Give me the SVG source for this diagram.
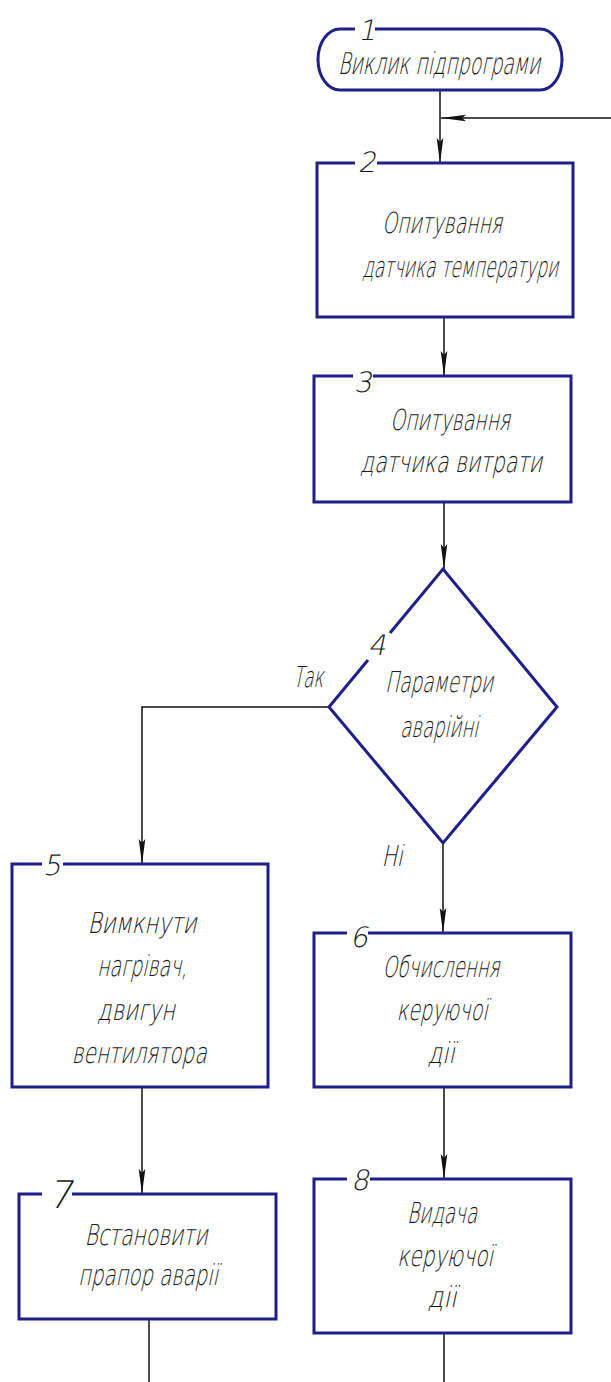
<svg xmlns="http://www.w3.org/2000/svg" width="611" height="1382" viewBox="0 0 611 1382">
  <style>
    .shape { fill: none; stroke: #1f1f8a; stroke-width: 3; stroke-linejoin: miter; }
    .wire { fill: none; stroke: #111; stroke-width: 1.5; }
    .txt { font-family: "DejaVu Sans", "Liberation Sans", sans-serif; font-weight: 200; font-size: 29px; fill: #1a1a1a; text-anchor: middle; }
    .num { font-family: "DejaVu Sans", "Liberation Sans", sans-serif; font-weight: 200; font-size: 28px; fill: #1a1a1a; text-anchor: middle; }
  </style>
  <defs>
    <marker id="arrow" markerUnits="userSpaceOnUse" viewBox="-27 -5 28 10" markerWidth="28" markerHeight="10" refX="0" refY="0" orient="auto">
      <path d="M0,0 L-25,-3.3 L-21,0 L-25,3.3 Z" fill="#111"/>
    </marker>
  </defs>
  <rect width="611" height="1382" fill="#fff"/>

  <!-- connectors -->
  <g id="connectors">
    <path class="wire" d="M440,90 V163" marker-end="url(#arrow)"/>
    <path class="wire" d="M611,118 H441" marker-end="url(#arrow)"/>
    <path class="wire" d="M444,317 V376" marker-end="url(#arrow)"/>
    <path class="wire" d="M444,502 V569" marker-end="url(#arrow)"/>
    <path class="wire" d="M329,707 H142 V864" marker-end="url(#arrow)"/>
    <path class="wire" d="M443,843 V933" marker-end="url(#arrow)"/>
    <path class="wire" d="M142,1087 V1194" marker-end="url(#arrow)"/>
    <path class="wire" d="M444,1087 V1179" marker-end="url(#arrow)"/>
    <path class="wire" d="M149,1319 V1382"/>
    <path class="wire" d="M444,1333 V1382"/>
    <text class="txt" transform="translate(308,687) skewX(-12) scale(0.72,1)" textLength="41.7" lengthAdjust="spacingAndGlyphs">Так</text>
    <text class="txt" transform="translate(392,866) skewX(-12) scale(0.72,1)" textLength="29.2" lengthAdjust="spacingAndGlyphs">Ні</text>
  </g>

  <!-- 1: start terminator -->
  <g id="node1">
    <path class="shape" d="M355,29 H340 A22,30.5 0 0 0 340,90 H540 A22,30.5 0 0 0 540,29 H375"/>
    <text class="num" transform="translate(367,40) skewX(-12)">1</text>
    <text class="txt" transform="translate(439,74) skewX(-12) scale(0.72,1)" style="font-size:30px" textLength="280.6" lengthAdjust="spacingAndGlyphs">Виклик підпрограми</text>
  </g>

  <!-- 2 -->
  <g id="node2">
    <path class="shape" d="M355,163 H317 V317 H573 V163 H377"/>
    <text class="num" transform="translate(367,172) skewX(-12)">2</text>
    <text class="txt" transform="translate(442,233) skewX(-12) scale(0.72,1)" textLength="166.7" lengthAdjust="spacingAndGlyphs">Опитування</text>
    <text class="txt" transform="translate(460,277) skewX(-12) scale(0.72,1)" textLength="272.2" lengthAdjust="spacingAndGlyphs">датчика температури</text>
  </g>

  <!-- 3 -->
  <g id="node3">
    <path class="shape" d="M353,376 H314 V502 H571 V376 H373"/>
    <text class="num" transform="translate(363,392) skewX(-12)">3</text>
    <text class="txt" transform="translate(450,430) skewX(-12) scale(0.72,1)" textLength="166.7" lengthAdjust="spacingAndGlyphs">Опитування</text>
    <text class="txt" transform="translate(451,472) skewX(-12) scale(0.72,1)" textLength="252.8" lengthAdjust="spacingAndGlyphs">датчика витрати</text>
  </g>

  <!-- 4: decision -->
  <g id="node4">
    <path class="shape" d="M390,633 L443,569 L557,707 L443,843 L329,707 L368,660"/>
    <text class="num" transform="translate(377,655) skewX(-12)">4</text>
    <text class="txt" transform="translate(439,692) skewX(-12) scale(0.72,1)" textLength="150" lengthAdjust="spacingAndGlyphs">Параметри</text>
    <text class="txt" transform="translate(439,737) skewX(-12) scale(0.72,1)" textLength="108.3" lengthAdjust="spacingAndGlyphs">аварійні</text>
  </g>

  <!-- 5 -->
  <g id="node5">
    <path class="shape" d="M42,864 H12 V1087 H268 V864 H63"/>
    <text class="num" transform="translate(52,875) skewX(-12)">5</text>
    <text class="txt" transform="translate(142,933) skewX(-12) scale(0.72,1)" textLength="151.4" lengthAdjust="spacingAndGlyphs">Вимкнути</text>
    <text class="txt" transform="translate(142,976) skewX(-12) scale(0.72,1)" textLength="125" lengthAdjust="spacingAndGlyphs">нагрівач,</text>
    <text class="txt" transform="translate(136,1020) skewX(-12) scale(0.72,1)" textLength="108.3" lengthAdjust="spacingAndGlyphs">двигун</text>
    <text class="txt" transform="translate(139,1063) skewX(-12) scale(0.72,1)" textLength="187.5" lengthAdjust="spacingAndGlyphs">вентилятора</text>
  </g>

  <!-- 6 -->
  <g id="node6">
    <path class="shape" d="M347,933 H314 V1087 H571 V933 H368"/>
    <text class="num" transform="translate(359,947) skewX(-12)">6</text>
    <text class="txt" transform="translate(441,977) skewX(-12) scale(0.72,1)" textLength="162.5" lengthAdjust="spacingAndGlyphs">Обчислення</text>
    <text class="txt" transform="translate(442,1020) skewX(-12) scale(0.72,1)" textLength="126.4" lengthAdjust="spacingAndGlyphs">керуючої</text>
    <text class="txt" transform="translate(441,1063) skewX(-12) scale(0.72,1)" textLength="37.5" lengthAdjust="spacingAndGlyphs">дії</text>
  </g>

  <!-- 7 -->
  <g id="node7">
    <path class="shape" d="M42,1194 H19 V1319 H276 V1194 H72"/>
    <text class="num" transform="translate(60,1208) skewX(-12)" style="font-size:38px">7</text>
    <text class="txt" transform="translate(146,1245) skewX(-12) scale(0.72,1)" textLength="170.8" lengthAdjust="spacingAndGlyphs">Встановити</text>
    <text class="txt" transform="translate(148,1285) skewX(-12) scale(0.72,1)" textLength="194.4" lengthAdjust="spacingAndGlyphs">прапор аварії</text>
  </g>

  <!-- 8 -->
  <g id="node8">
    <path class="shape" d="M347,1179 H314 V1333 H571 V1179 H370"/>
    <text class="num" transform="translate(360,1190) skewX(-12)">8</text>
    <text class="txt" transform="translate(442,1223) skewX(-12) scale(0.72,1)" textLength="97.2" lengthAdjust="spacingAndGlyphs">Видача</text>
    <text class="txt" transform="translate(445,1266) skewX(-12) scale(0.72,1)" textLength="133.3" lengthAdjust="spacingAndGlyphs">керуючої</text>
    <text class="txt" transform="translate(442,1307) skewX(-12) scale(0.72,1)" textLength="40.3" lengthAdjust="spacingAndGlyphs">дії</text>
  </g>
</svg>
